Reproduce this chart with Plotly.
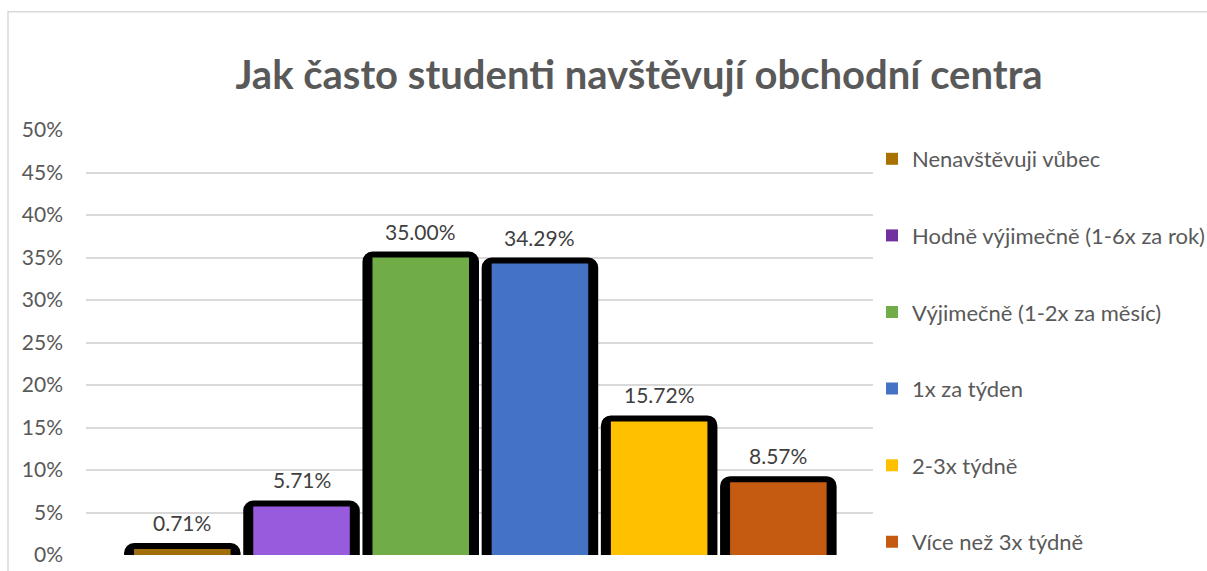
import plotly.graph_objects as go

categories = ["Nenavštěvuji vůbec", "Hodně výjimečně (1-6x za rok)", "Výjimečně (1-2x za měsíc)",
              "1x za týden", "2-3x týdně", "Více než 3x týdně"]
values = [0.71, 5.71, 35.00, 34.29, 15.72, 8.57]
labels = ["0.71%", "5.71%", "35.00%", "34.29%", "15.72%", "8.57%"]
bar_colors = ["#A06F0C", "#995BDD", "#70AD47", "#4472C4", "#FFC000", "#C55A11"]
legend_colors = ["#A87200", "#7030A0", "#70AD47", "#4472C4", "#FFC000", "#C55A11"]
y_ticks = [0, 5, 10, 15, 20, 25, 30, 35, 40, 45, 50]
y_tick_text = ["0%", "5%", "10%", "15%", "20%", "25%", "30%", "35%", "40%", "45%", "50%"]
title_text = "Jak často studenti navštěvují obchodní centra"

FONT = "Lato"
GRAY = "#595959"

fig = go.Figure()

# black outline bars (behind)
fig.add_trace(go.Bar(
    x=categories, y=values, width=0.877,
    marker=dict(color="black", line=dict(color="black", width=12), cornerradius=4),
    showlegend=False, hoverinfo="skip"))

# coloured bars
for cat, val, col in zip(categories, values, bar_colors):
    fig.add_trace(go.Bar(
        x=[cat], y=[val], width=0.81,
        marker=dict(color=col, line=dict(width=0)),
        showlegend=False, name=cat))

# legend entries (split over two legend boxes so nothing scrolls)
for i, (cat, col) in enumerate(zip(categories, legend_colors)):
    fig.add_trace(go.Bar(
        x=[cat], y=[None], name=cat, legendgroup=f"g{i}",
        legend="legend" if i < 3 else "legend2",
        marker=dict(color=col, line=dict(width=0)), showlegend=True))

for cat, val, lab in zip(categories, values, labels):
    fig.add_annotation(x=cat, y=val, text=lab, showarrow=False,
                       yanchor="bottom", yshift=12,
                       font=dict(family=FONT, size=21, color="#404040"))

legend_style = dict(xref="container", yref="container", x=872 / 1207,
                    xanchor="left", yanchor="top", tracegroupgap=45,
                    font=dict(family=FONT, size=22, color=GRAY), bgcolor="rgba(0,0,0,0)")

fig.update_layout(
    width=1207, height=571,
    margin=dict(l=86, r=334, t=130, b=16, autoexpand=False),
    paper_bgcolor="white", plot_bgcolor="white",
    barmode="overlay",
    title=dict(text=title_text, xref="container", x=639 / 1207, xanchor="center",
               yref="container", y=1 - 75 / 571, yanchor="middle",
               font=dict(family=FONT, size=40, color=GRAY, weight="bold")),
    legend=dict(y=1 - 138 / 571, **legend_style),
    legend2=dict(y=1 - (138 + 3 * 76.6) / 571, **legend_style),
    xaxis=dict(range=[-0.808, 5.794], showticklabels=False, showgrid=False,
               zeroline=False, showline=False, ticks=""),
    yaxis=dict(range=[0, 50], tickmode="array", tickvals=y_ticks, ticktext=y_tick_text,
               showgrid=True, gridcolor="#D9D9D9", gridwidth=1.5, zeroline=False,
               showline=False, ticklabelstandoff=22,
               tickfont=dict(family=FONT, size=21, color=GRAY)),
    shapes=[dict(type="rect", xref="paper", yref="paper",
                 x0=(8 - 86) / 787, x1=1.6,
                 y0=-0.2, y1=(554.5 - 12) / 424.5,
                 line=dict(color="#D9D9D9", width=1.5), fillcolor="rgba(0,0,0,0)",
                 layer="below")],
    showlegend=True,
)

fig.write_html("out.html")
